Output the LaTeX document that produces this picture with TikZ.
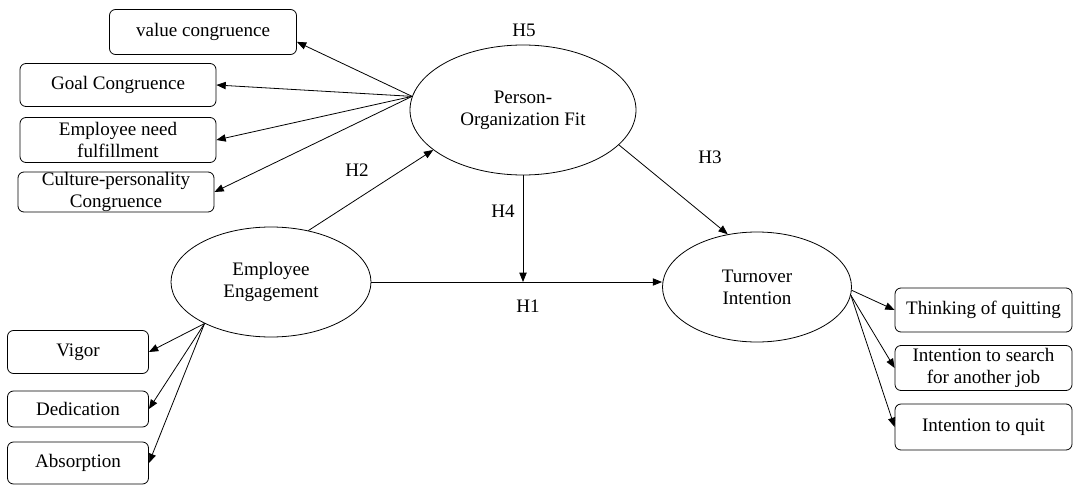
\documentclass[tikz,border=0pt]{standalone}
\usepackage{fontspec}
\setmainfont{Liberation Serif}
\usetikzlibrary{shapes.geometric,arrows.meta}

\begin{document}
\begin{tikzpicture}[x=0.75pt, y=-0.75pt, line width=0.6pt,
  >={Triangle[length=7pt,width=5.5pt]},
  every node/.style={font=\fontsize{14.3}{16.5}\selectfont, align=center},
  box/.style={draw, rounded corners=4.5pt, inner sep=0pt},
  latent/.style={draw, ellipse, inner sep=0pt}]
  \useasboundingbox (0,0) rectangle (1074,485);

  % Latent variables
  \node[latent, minimum width=169.5pt, minimum height=97.5pt] (pof) at (523,110) {Person-\\Organization Fit};
  \node[latent, minimum width=150pt, minimum height=82.5pt] (ee) at (271,282) {Employee\\Engagement};
  \node[latent, minimum width=141.75pt, minimum height=82.5pt] (ti) at (757,287) {Turnover\\Intention};

  % Indicators
  \node[box, minimum width=140.25pt, minimum height=33.75pt] (valcon) at (203,32) {value congruence};
  \node[box, minimum width=147pt, minimum height=32.25pt] (goalcon) at (118,85) {Goal Congruence};
  \node[box, minimum width=147pt, minimum height=33.75pt] (needful) at (118,140) {Employee need\\fulfillment};
  \node[box, minimum width=147pt, minimum height=30pt] (culpers) at (116,192) {Culture-personality\\Congruence};

  \node[box, minimum width=105.75pt, minimum height=32.25pt] (vigor) at (78,352) {Vigor};
  \node[box, minimum width=105.75pt, minimum height=27pt] (dedic) at (78,409) {Dedication};
  \node[box, minimum width=105.75pt, minimum height=31.5pt] (absorp) at (78,463) {Absorption};

  \node[box, minimum width=132.75pt, minimum height=33pt] (think) at (983.5,310) {Thinking of quitting};
  \node[box, minimum width=132.75pt, minimum height=33.75pt] (search) at (983.5,368) {Intention to search\\for another job};
  \node[box, minimum width=132.75pt, minimum height=34.5pt] (quit) at (983.5,427) {Intention to quit};

  % Hypotheses
  \node (hfive) at (524,30) {H5};
  \node (htwo) at (357,170) {H2};
  \node (hfour) at (503,211) {H4};
  \node (hthree) at (710,157) {H3};
  \node (hone) at (528,306) {H1};
  \coordinate (meet) at (pof.south |- ee.east);

  % Paths
  \draw[->] (ee.east) -- (ee.east -| ti.west);
  \draw[->] (ee.54) -- (pof.204);
  \draw[->] (pof.-20) -- (ti.119);
  \draw[->] (pof.south) -- (meet);

  % Measurement arrows
  \draw[->] (pof.173) -- (valcon.-6);
  \draw[->] (pof.173) -- (goalcon.east);
  \draw[->] (pof.173) -- (needful.east);
  \draw[->] (pof.173) -- (culpers.east);

  \draw[->] (ee.212) -- (vigor.east);
  \draw[->] (ee.212) -- (dedic.east);
  \draw[->] (ee.212) -- (absorp.east);

  \draw[->] (ti.-2) -- (think.west);
  \draw[->] (ti.-5) -- (search.west);
  \draw[->] (ti.-5) -- (quit.west);
\end{tikzpicture}
\end{document}
